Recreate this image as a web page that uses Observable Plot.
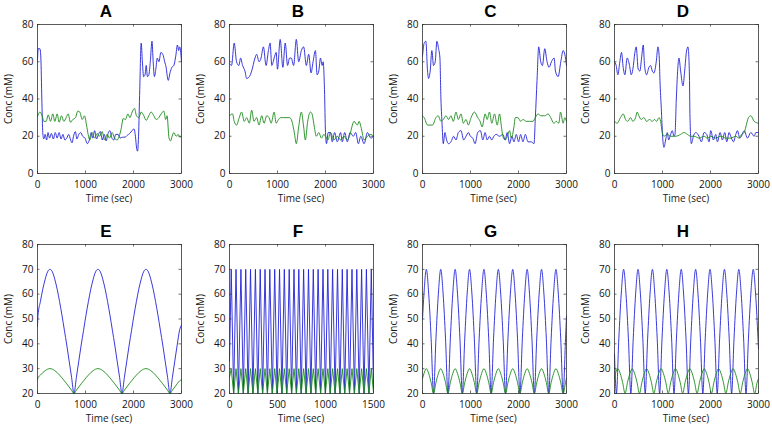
<!DOCTYPE html>
<html><head><meta charset="utf-8">
<script src="https://cdn.jsdelivr.net/npm/d3@7"></script>
<script src="https://cdn.jsdelivr.net/npm/@observablehq/plot@0.6"></script>
<style>
body{margin:0;background:#fff;}
#fig{position:relative;width:772px;height:427px;background:#fff;overflow:hidden;font-family:"Open Sans",sans-serif;}
.ttl{position:absolute;font:bold 17px "Liberation Sans",Arial,sans-serif;transform:translateX(-50%);line-height:1;color:#000;white-space:nowrap}
.xl{position:absolute;font-size:10px;transform:translate(-50%,-50%);white-space:nowrap;color:#1a1a1a;line-height:1}
.yl{position:absolute;font-size:10px;transform:translate(-50%,-50%) rotate(-90deg);white-space:nowrap;color:#1a1a1a;line-height:1}
</style></head>
<body><div id="fig"></div>
<script>
// ---------- labels ----------
const panelNames = ["A","B","C","D","E","F","G","H"];
const xLabel = "Time (sec)";
const yLabel = "Conc (mM)";
const topXTicks = [0,1000,2000,3000];
const topYTicks = [0,20,40,60,80];
const botYTicks = [20,30,40,50,60,70,80];
const fXTicks = [0,500,1000,1500];

// ---------- top row: [time, conc] ----------
const aBlue = [[0,61],[15,67],[50,67],[70,62],[90,40],[110,22],[130,18.5],[160,21],[190,18],[220,22],[250,19],[290,21.5],[330,18.5],[370,22],[410,19],[450,22],[490,18.5],[530,21],[570,18],[610,19],[650,21],[690,18],[720,16.5],[750,20],[790,22.5],[820,18.5],[860,21],[900,22],[940,20],[990,19],[1040,16],[1080,18],[1120,22],[1150,19],[1190,23],[1230,18.5],[1270,21],[1310,22.5],[1350,18],[1390,21],[1430,17.5],[1470,21.5],[1510,23],[1550,19],[1590,18],[1630,21],[1680,21],[1720,19],[1770,19.5],[1820,19.5],[1870,20.5],[1920,21.5],[1970,23],[2010,24],[2040,20],[2065,13.5],[2085,12],[2105,20],[2130,45],[2160,70],[2185,60],[2210,52],[2240,53],[2265,58],[2290,52],[2320,53],[2350,60],[2385,71],[2410,60],[2435,52],[2465,56],[2495,62],[2530,60],[2570,65],[2610,64],[2650,60],[2680,57],[2705,52],[2725,50],[2760,54],[2800,57],[2840,58],[2880,63],[2915,69],[2940,66],[2960,68],[2980,66],[3000,60]];
const aGreen = [[0,30.5],[49,33],[97,31],[132,28],[181,28],[222,31.5],[271,28],[319,32],[361,28],[410,32],[451,27.5],[500,31],[549,28],[597,30],[639,32],[687,27.5],[736,29],[792,30],[840,33.5],[882,33],[931,29],[979,31],[1021,26],[1055,21],[1090,18],[1139,22],[1187,19],[1243,21.5],[1292,20],[1347,22.5],[1396,18],[1451,21],[1500,19],[1555,22],[1604,19],[1660,18],[1701,20],[1743,24],[1785,29.5],[1833,29],[1882,32],[1924,30],[1972,33],[2021,35],[2062,31],[2111,30],[2160,33],[2215,31],[2264,28.5],[2319,31],[2368,33],[2424,31],[2472,29],[2528,30],[2576,32],[2632,33.5],[2670,29],[2700,31],[2740,19],[2771,17.5],[2805,20],[2840,22],[2889,20],[2930,21],[2965,19.5],[3000,20]];
const bBlue = [[0,59],[42,58],[98,70],[147,60],[196,58],[231,62],[273,58],[322,55],[357,51],[413,52],[462,55],[531,62],[566,64],[615,60],[657,62],[706,68],[762,58],[811,66],[846,70],[881,58],[930,62],[972,65],[1000,56],[1056,72],[1112,57],[1161,70],[1210,58],[1252,62],[1287,62],[1336,58],[1392,72],[1441,60],[1497,66],[1545,68],[1601,58],[1650,64],[1699,54],[1741,60],[1790,66],[1825,53],[1860,55],[1895,62],[1930,58],[1951,60],[1979,45],[2000,22],[2021,16],[2056,22],[2105,22],[2140,17],[2189,22],[2245,17],[2315,22],[2350,17],[2399,22],[2455,17],[2511,22],[2580,20],[2629,22],[2685,16],[2734,20],[2804,16],[2874,22],[2944,19],[3000,20]];
const bGreen = [[0,31],[63,32],[98,28],[147,26],[203,30],[252,33],[308,28],[357,30],[413,27],[462,34],[510,28],[566,30],[615,26],[671,31],[720,27],[776,31],[825,30],[867,27],[930,33],[972,27],[1021,29],[1070,30],[1126,30],[1196,30],[1252,30],[1301,28],[1350,22],[1392,16],[1441,25],[1497,33],[1545,25],[1580,18],[1629,28],[1685,33],[1720,32],[1755,27],[1811,20],[1860,22],[1916,19],[1965,21],[2000,20],[2049,18],[2105,22],[2175,18],[2245,20],[2315,18],[2385,20],[2455,18],[2511,21],[2560,26],[2594,28],[2664,26],[2699,28],[2748,24],[2804,18],[2874,20],[2944,21],[3000,20]];
const cBlue = [[0,63],[35,70],[70,71],[105,55],[126,51],[160,55],[195,66],[230,58],[265,60],[300,71],[335,67],[363,62],[384,40],[405,28],[433,16],[467,22],[502,18],[544,16],[593,17],[649,20],[698,18],[747,22],[802,23],[858,18],[907,20],[956,22],[998,20],[1047,19],[1095,16],[1151,22],[1207,23],[1256,18],[1305,22],[1347,18],[1395,20],[1444,18],[1486,20],[1535,21],[1605,20],[1674,21],[1723,18],[1765,22],[1814,16],[1863,20],[1905,17],[1954,21],[2002,17],[2044,21],[2093,17],[2142,21],[2198,17],[2267,17],[2323,16],[2351,30],[2386,50],[2421,68],[2463,60],[2498,58],[2547,67],[2595,60],[2637,57],[2686,60],[2742,62],[2770,55],[2826,52],[2881,60],[2930,66],[2965,64],[3000,58]];
const cGreen = [[0,31],[35,30],[105,26],[209,26],[279,30],[328,31],[384,28],[433,29],[488,31],[544,29],[593,31],[642,28],[698,33],[747,29],[802,32],[851,27],[907,29],[956,26],[1012,30],[1081,33],[1151,30],[1200,28],[1242,25],[1305,32],[1347,29],[1395,33],[1444,27],[1500,32],[1556,26],[1605,32],[1640,26],[1674,20],[1723,18],[1765,20],[1814,23],[1849,19],[1905,25],[1933,30],[1988,30],[2044,28],[2093,29],[2163,28],[2233,28],[2302,28],[2351,30],[2407,32],[2463,31],[2547,31],[2616,32],[2672,30],[2735,27],[2791,28],[2840,27],[2875,33],[2930,27],[2965,30],[3000,28]];
const dBlue = [[0,60],[35,58],[70,53],[111,60],[146,65],[181,57],[216,53],[265,62],[313,58],[348,53],[383,56],[425,65],[452,68],[494,56],[529,55],[564,62],[599,69],[626,58],[668,53],[717,57],[752,58],[787,55],[821,54],[870,60],[905,68],[933,62],[947,50],[975,35],[1002,20],[1030,14],[1065,18],[1100,22],[1128,18],[1169,21],[1204,23],[1239,20],[1260,21],[1288,40],[1323,58],[1343,62],[1378,55],[1427,47],[1462,55],[1497,65],[1531,68],[1559,55],[1573,30],[1601,16],[1643,20],[1692,22],[1761,20],[1810,17],[1866,22],[1921,21],[1970,17],[2005,23],[2061,18],[2109,21],[2144,17],[2200,22],[2248,18],[2297,22],[2339,17],[2388,22],[2422,20],[2478,17],[2527,21],[2562,23],[2610,19],[2645,20],[2701,23],[2771,19],[2840,22],[2910,20],[2944,22],[3000,22]];
const dGreen = [[0,28],[56,27],[125,30],[181,32],[230,29],[278,28],[334,30],[383,28],[439,30],[473,33],[508,31],[557,29],[613,30],[668,28],[731,29],[787,28],[835,29],[877,28],[926,30],[961,28],[995,22],[1030,20],[1100,21],[1169,20],[1274,20],[1378,21],[1448,22],[1518,21],[1587,20],[1657,20],[1761,19],[1866,20],[1935,19],[2005,20],[2109,19],[2214,20],[2318,19],[2422,19],[2527,20],[2596,19],[2645,21],[2701,22],[2736,25],[2791,30],[2840,31],[2910,28],[3000,27]];

// ---------- bottom row ----------
const eTime = [0,10,60,110,160,210,260,310,360,410,460,510,560,610,660,710,760,810,860,910,960,1010,1060,1110,1160,1210,1260,1310,1360,1410,1460,1510,1560,1610,1660,1710,1760,1810,1860,1910,1960,2010,2060,2110,2160,2210,2260,2310,2360,2410,2460,2510,2560,2610,2660,2710,2760,2810,2860,2910,2960,3000];
const eBlue = [47,51.5,57,62,66,69,70,69,66,62,57,51.5,45.5,39.5,33,26.5,20,26.5,33,39.5,45.5,51.5,57,62,66,69,70,69,66,62,57,51.5,45.5,39.5,33,26.5,20,26.5,33,39.5,45.5,51.5,57,62,66,69,70,69,66,62,57,51.5,45.5,39.5,33,26.5,20,26.5,33,39.5,45.5,47.5];
const eGreen = [25.4,26.3,27.4,28.4,29.2,29.8,30,29.8,29.2,28.4,27.4,26.3,25.1,23.9,22.6,21.3,20,21.3,22.6,23.9,25.1,26.3,27.4,28.4,29.2,29.8,30,29.8,29.2,28.4,27.4,26.3,25.1,23.9,22.6,21.3,20,21.3,22.6,23.9,25.1,26.3,27.4,28.4,29.2,29.8,30,29.8,29.2,28.4,27.4,26.3,25.1,23.9,22.6,21.3,20,21.3,22.6,23.9,25.1,25.5];

const fTime = [0,18,43,68,93,119,144,169,194,219,244,270,295,320,345,370,395,420,446,471,496,521,546,571,596,622,647,672,697,722,747,772,798,823,848,873,898,923,949,974,999,1024,1049,1074,1100,1125,1150,1175,1200,1225,1250,1276,1301,1326,1351,1376,1401,1426,1452,1477,1500];
const fBlue = [33,70,20,70,20,70,20,70,20,70,20,70,20,70,20,70,20,70,20,70,20,70,20,70,20,70,20,70,20,70,20,70,20,70,20,70,20,70,20,70,20,70,20,70,20,70,20,70,20,70,20,70,20,70,20,70,20,70,20,70,22];
const fGreen = [26.5,30,20,30,20,30,20,30,20,30,20,30,20,30,20,30,20,30,20,30,20,30,20,30,20,30,20,30,20,30,20,30,20,30,20,30,20,30,20,30,20,30,20,30,20,30,20,30,20,30,20,30,20,30,20,30,20,30,20,30,20.4];

const gTime = [0,30,80,130,180,230,280,330,380,430,480,530,580,630,680,730,780,830,880,930,980,1030,1080,1130,1180,1230,1280,1330,1380,1430,1480,1530,1580,1630,1680,1730,1780,1830,1880,1930,1980,2030,2080,2130,2180,2230,2280,2330,2380,2430,2480,2530,2580,2630,2680,2730,2780,2830,2880,2930,2980,3000];
const gBlue = [50,60,70,60,42,20,42,60,70,60,42,20,42,60,70,60,42,20,42,60,70,60,42,20,42,60,70,60,42,20,42,60,70,60,42,20,42,60,70,60,42,20,42,60,70,60,42,20,42,60,70,60,42,20,42,60,70,60,42,20,42,51];
const gGreen = [26,28,30,28,24.4,20,24.4,28,30,28,24.4,20,24.4,28,30,28,24.4,20,24.4,28,30,28,24.4,20,24.4,28,30,28,24.4,20,24.4,28,30,28,24.4,20,24.4,28,30,28,24.4,20,24.4,28,30,28,24.4,20,24.4,28,30,28,24.4,20,24.4,28,30,28,24.4,20,24.4,26.2];

const hBlueTime = [0,40,90,140,190,240,290,340,390,440,490,540,590,640,690,740,790,840,890,940,990,1040,1090,1140,1190,1240,1290,1340,1390,1440,1490,1540,1590,1640,1690,1740,1790,1840,1890,1940,1990,2040,2090,2140,2190,2240,2290,2340,2390,2440,2490,2540,2590,2640,2690,2740,2790,2840,2890,2940,2990,3000];
const hBlue = [36,20,42,60,70,60,42,20,42,60,70,60,42,20,42,60,70,60,42,20,42,60,70,60,42,20,42,60,70,60,42,20,42,60,70,60,42,20,42,60,70,60,42,20,42,60,70,60,42,20,42,60,70,60,42,20,42,60,70,60,42,38];
const hGreenTime = [0,20,70,120,170,220,270,320,370,420,470,520,570,620,670,720,770,820,870,920,970,1020,1070,1120,1170,1220,1270,1320,1370,1420,1470,1520,1570,1620,1670,1720,1770,1820,1870,1920,1970,2020,2070,2120,2170,2220,2270,2320,2370,2420,2470,2520,2570,2620,2670,2720,2770,2820,2870,2920,2970,3000];
const hGreen = [26,28,30,28,24.4,20,24.4,28,30,28,24.4,20,24.4,28,30,28,24.4,20,24.4,28,30,28,24.4,20,24.4,28,30,28,24.4,20,24.4,28,30,28,24.4,20,24.4,28,30,28,24.4,20,24.4,28,30,28,24.4,20,24.4,28,30,28,24.4,20,24.4,28,30,28,24.4,20,24.4,26];

// ---------- build ----------
const pairs = a => a.map(([t, v]) => ({t, v}));
const zip = (ts, vs) => ts.map((t, i) => ({t, v: vs[i]}));
const BLUE = "#2222d8", GREEN = "#1a8a1a", INK = "#333";
const W = 144, H = 149, mL = 36, mR = 20, mT = 6, mB = 22;
const colX = [37, 229, 421.5, 614];
const rowY = [24, 244];

const panels = [
  {blue: pairs(aBlue), green: pairs(aGreen), xd: [0,3000], xt: topXTicks, yd: [0,80], yt: topYTicks, curve: "monotone-x"},
  {blue: pairs(bBlue), green: pairs(bGreen), xd: [0,3000], xt: topXTicks, yd: [0,80], yt: topYTicks, curve: "monotone-x"},
  {blue: pairs(cBlue), green: pairs(cGreen), xd: [0,3000], xt: topXTicks, yd: [0,80], yt: topYTicks, curve: "monotone-x"},
  {blue: pairs(dBlue), green: pairs(dGreen), xd: [0,3000], xt: topXTicks, yd: [0,80], yt: topYTicks, curve: "monotone-x"},
  {blue: zip(eTime, eBlue), green: zip(eTime, eGreen), xd: [0,3000], xt: topXTicks, yd: [20,80], yt: botYTicks, curve: "monotone-x"},
  {blue: zip(fTime, fBlue), green: zip(fTime, fGreen), xd: [0,1500], xt: fXTicks, yd: [20,80], yt: botYTicks, curve: "linear"},
  {blue: zip(gTime, gBlue), green: zip(gTime, gGreen), xd: [0,3000], xt: topXTicks, yd: [20,80], yt: botYTicks, curve: "monotone-x"},
  {blue: zip(hBlueTime, hBlue), green: zip(hGreenTime, hGreen), xd: [0,3000], xt: topXTicks, yd: [20,80], yt: botYTicks, curve: "monotone-x"}
];

const fig = document.getElementById("fig");
function addDiv(cls, text, left, top) {
  const d = document.createElement("div");
  d.className = cls; d.textContent = text;
  d.style.left = left + "px"; d.style.top = top + "px";
  fig.appendChild(d);
}
const fmt = d => String(d);

panels.forEach((p, i) => {
  const x0 = colX[i % 4], y0 = rowY[Math.floor(i / 4)];
  const [xa, xb] = p.xd, [ya, yb] = p.yd;
  const tk = 2.5;
  const svg = Plot.plot({
    width: W + mL + mR, height: H + mT + mB,
    marginLeft: mL, marginRight: mR, marginTop: mT, marginBottom: mB,
    x: {domain: p.xd}, y: {domain: p.yd},
    style: {fontFamily: "'Open Sans', sans-serif", fontSize: "10px", color: "#111", background: "transparent", overflow: "visible"},
    marks: [
      Plot.line(p.blue, {x: "t", y: "v", stroke: BLUE, strokeWidth: 0.9, curve: p.curve}),
      Plot.line(p.green, {x: "t", y: "v", stroke: GREEN, strokeWidth: 0.9, curve: p.curve}),
      Plot.ruleX(p.xt, {x: d => d, y1: ya, y2: ya, insetTop: -tk, stroke: INK, strokeWidth: 0.7}),
      Plot.ruleX(p.xt, {x: d => d, y1: yb, y2: yb, insetBottom: -tk, stroke: INK, strokeWidth: 0.7}),
      Plot.ruleY(p.yt, {y: d => d, x1: xa, x2: xa, insetRight: -tk, stroke: INK, strokeWidth: 0.7}),
      Plot.ruleY(p.yt, {y: d => d, x1: xb, x2: xb, insetLeft: -tk, stroke: INK, strokeWidth: 0.7}),
      Plot.axisX(p.xt, {tickSize: 0, tickPadding: 7, label: null, tickFormat: fmt}),
      Plot.axisY(p.yt, {tickSize: 0, tickPadding: 4, label: null, tickFormat: fmt}),
      Plot.frame({stroke: INK, strokeWidth: 0.8})
    ]
  });
  svg.style.position = "absolute";
  svg.style.left = (x0 - mL) + "px";
  svg.style.top = (y0 - mT) + "px";
  fig.appendChild(svg);
  addDiv("ttl", panelNames[i], x0 + W / 2 - 3, y0 - 7 - 14.4);
  addDiv("xl", xLabel, x0 + W / 2, y0 + H + 25);
  addDiv("yl", yLabel, x0 - 29, y0 + H / 2);
});
</script>
</body></html>
